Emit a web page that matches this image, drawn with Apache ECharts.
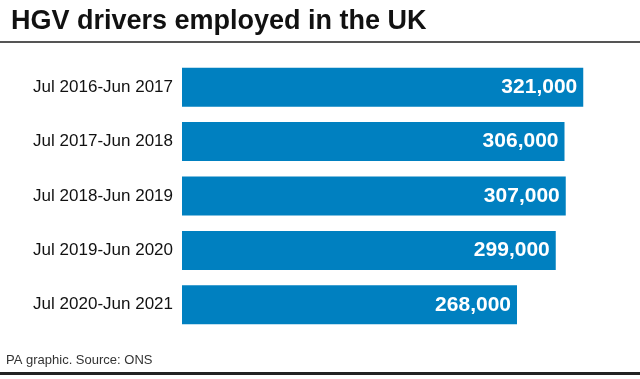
<!DOCTYPE html>
<html>
<head>
<meta charset="utf-8">
<script src="https://cdn.jsdelivr.net/npm/echarts@6/dist/echarts.min.js"></script>
<style>
html,body{margin:0;padding:0;background:#fff;}
#chart{width:640px;height:379px;}
</style>
</head>
<body>
<div id="chart"></div>
<script>
const categories = ['Jul 2016-Jun 2017','Jul 2017-Jun 2018','Jul 2018-Jun 2019','Jul 2019-Jun 2020','Jul 2020-Jun 2021'];
const drivers = [321000, 306000, 307000, 299000, 268000];
const titleText = 'HGV drivers employed in the UK';
const sourceText = 'PA graphic. Source: ONS';

const chart = echarts.init(document.getElementById('chart'), null, {renderer:'canvas'});
chart.setOption({
  animation: false,
  backgroundColor: '#fff',
  title: {
    text: titleText,
    left: 6, top: 3,
    textStyle: {fontFamily: 'Liberation Sans', fontWeight: 'bold', fontSize: 27, color: '#111'}
  },
  graphic: [
    {type:'rect', shape:{x:0, y:41, width:640, height:2}, style:{fill:'#555'}},
    {type:'rect', shape:{x:0, y:372, width:640, height:3}, style:{fill:'#222'}},
    {type:'text', left: 6, top: 354, style:{text: sourceText, font: '13px "Liberation Sans"', fill:'#333'}}
  ],
  grid: {left: 182, right: 8, top: 60, bottom: 47, containLabel: false},
  xAxis: {type:'value', min:0, max:360000, show:false},
  yAxis: {
    type:'category', data: categories, inverse: true,
    axisLine:{show:false}, axisTick:{show:false},
    axisLabel:{fontFamily:'Liberation Sans', fontSize:17, color:'#111', margin:9}
  },
  series: [{
    type:'bar', data: drivers, barWidth: 39,
    itemStyle:{color:'#0080c0'},
    label:{
      show:true, position:'insideRight', distance:6,
      formatter: p => p.value.toLocaleString('en-GB'),
      fontFamily:'Liberation Sans', fontWeight:'bold', fontSize:21, color:'#fff'
    }
  }]
});
</script>
</body>
</html>
